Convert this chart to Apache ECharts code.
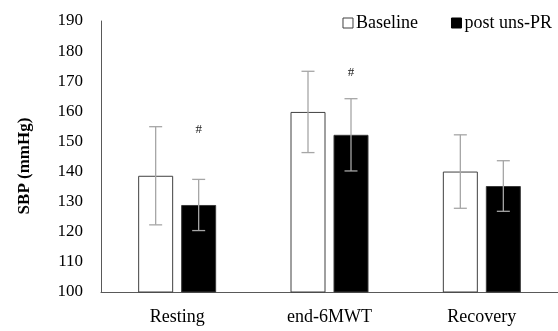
<!DOCTYPE html>
<html>
<head>
<meta charset="utf-8">
<script src="https://cdn.jsdelivr.net/npm/echarts@6/dist/echarts.min.js"></script>
<style>html,body{margin:0;padding:0;background:#fff}#c{width:558px;height:331px}</style>
</head>
<body>
<div id="c"></div>
<script>
var categories = ['Resting', 'end-6MWT', 'Recovery'];
var baselineMean = [138.6, 159.8, 140.0];
var baselineSD = [16.3, 13.5, 12.2];
var postMean = [128.9, 152.2, 135.2];
var postSD = [8.5, 12.0, 8.4];
var postSigLabelAt = [154, 172.8, null];
var yTicks = [100, 110, 120, 130, 140, 150, 160, 170, 180, 190];

var FONT = 'Liberation Serif';
var BAR_W = 35, GAP = 8;
var chart = echarts.init(document.getElementById('c'));

function errSeries(means, sds, dir, name) {
  var data = means.map(function (m, i) { return [i, m - sds[i], m + sds[i]]; });
  return {
    type: 'custom', name: name + ' err', z: 5, silent: true,
    data: data,
    renderItem: function (params, api) {
      var lo = api.coord([api.value(0), api.value(1)]);
      var hi = api.coord([api.value(0), api.value(2)]);
      var x = lo[0] + dir * (BAR_W / 2 + GAP / 2);
      var c = 6.5;
      var st = { stroke: '#a6a6a6', lineWidth: 1.3 };
      return { type: 'group', children: [
        { type: 'line', shape: { x1: x, y1: lo[1], x2: x, y2: hi[1] }, style: st },
        { type: 'line', shape: { x1: x - c, y1: lo[1], x2: x + c, y2: lo[1] }, style: st },
        { type: 'line', shape: { x1: x - c, y1: hi[1], x2: x + c, y2: hi[1] }, style: st }
      ]};
    }
  };
}

var sigData = [];
postSigLabelAt.forEach(function (v, i) { if (v != null) sigData.push([i, v]); });

chart.setOption({
  animation: false,
  grid: { left: 101, right: -9, top: 21, bottom: 39, containLabel: false },
  legend: {
    top: 9, right: 1, itemWidth: 10, itemHeight: 10, itemGap: 33,
    textStyle: { fontFamily: FONT, fontSize: 18, color: '#000', padding: [0, 0, 0, -2] },
    data: [
      { name: 'Baseline', icon: 'rect', itemStyle: { color: '#fff', borderColor: '#404040', borderWidth: 1 } },
      { name: 'post uns-PR', icon: 'rect', itemStyle: { color: '#000', borderColor: '#000', borderWidth: 1 } }
    ]
  },
  xAxis: {
    type: 'category', data: categories,
    axisLine: { lineStyle: { color: '#595959', width: 1 } },
    axisTick: { show: false },
    axisLabel: { fontFamily: FONT, fontSize: 18, color: '#000', margin: 16 }
  },
  yAxis: {
    type: 'value', min: 100, max: 190, interval: 10,
    axisLine: { show: true, lineStyle: { color: '#595959', width: 1 } },
    axisTick: { show: false },
    splitLine: { show: false },
    axisLabel: { fontFamily: FONT, fontSize: 17, color: '#000', margin: 18,
      formatter: function (v) { return yTicks.indexOf(v) >= 0 ? String(v) : ''; } }
  },
  graphic: [{
    type: 'text', x: 25, y: 166, rotation: Math.PI / 2,
    style: { text: 'SBP (mmHg)', fontFamily: FONT, fontWeight: 'bold', fontSize: 17, fill: '#000',
      align: 'center', verticalAlign: 'middle' }
  }],
  series: [
    { type: 'bar', name: 'Baseline', data: baselineMean, barWidth: BAR_W, barGap: (GAP / BAR_W * 100) + '%',
      itemStyle: { color: '#fff', borderColor: '#404040', borderWidth: 1 } },
    { type: 'bar', name: 'post uns-PR', data: postMean, barWidth: BAR_W,
      itemStyle: { color: '#000', borderColor: '#3a3a3a', borderWidth: 1 } },
    errSeries(baselineMean, baselineSD, -1, 'Baseline'),
    errSeries(postMean, postSD, 1, 'post uns-PR'),
    {
      type: 'custom', name: 'sig', z: 6, silent: true, data: sigData,
      renderItem: function (params, api) {
        var p = api.coord([api.value(0), api.value(1)]);
        return { type: 'text', x: p[0] + BAR_W / 2 + GAP / 2, y: p[1],
          style: { text: '#', fontFamily: FONT, fontSize: 13, fill: '#222', align: 'center', verticalAlign: 'middle' } };
      }
    }
  ]
});
</script>
</body>
</html>
